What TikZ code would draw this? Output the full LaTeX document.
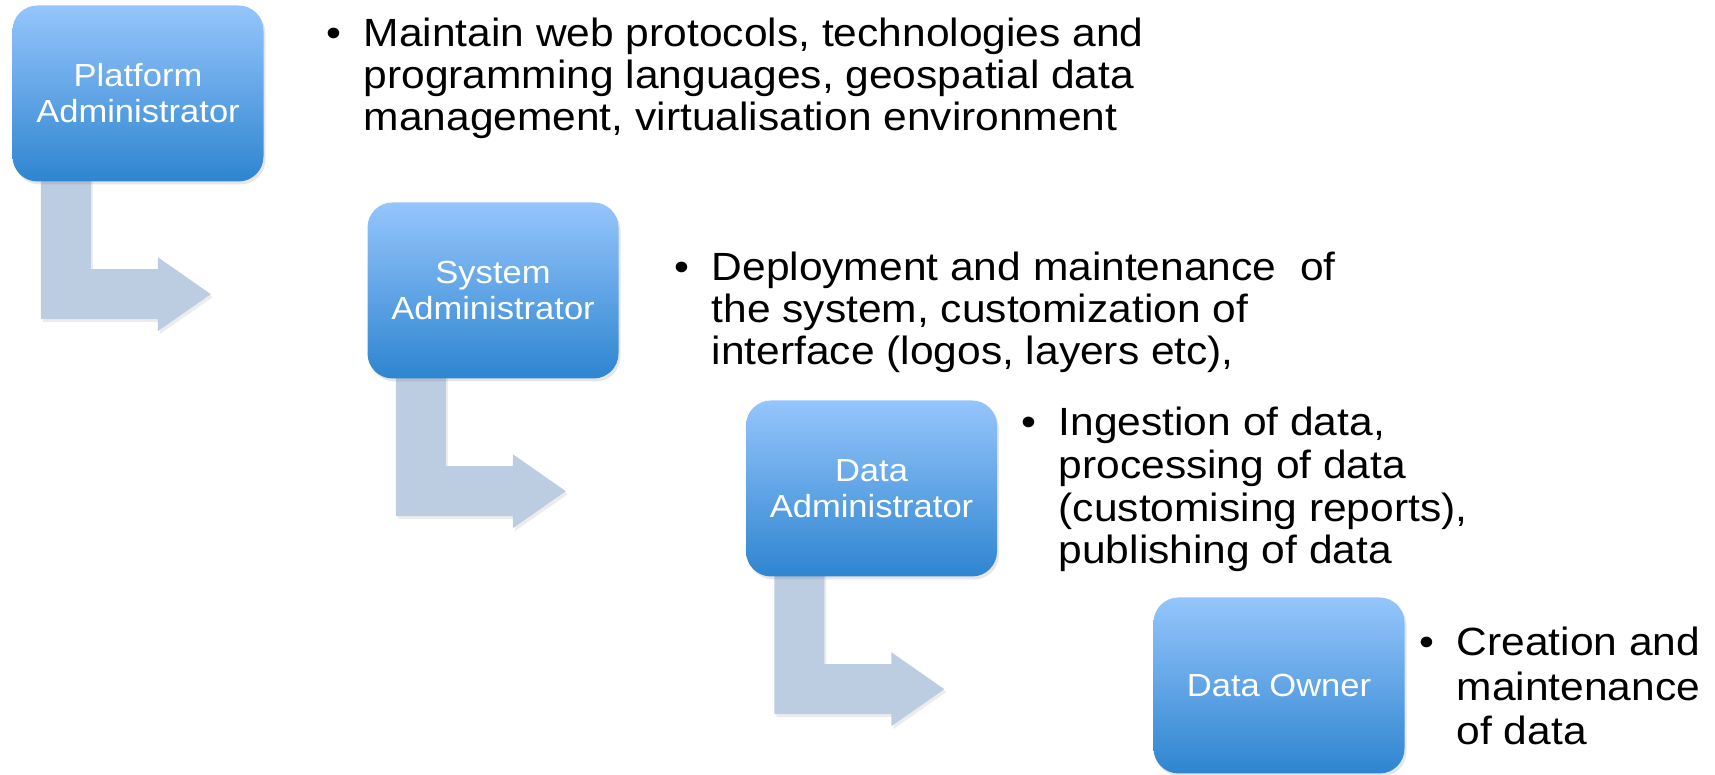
\documentclass[tikz,border=0pt]{standalone}
\usepackage{fontspec}
\setmainfont[FakeStretch=1.08]{Liberation Sans}
\usetikzlibrary{positioning,shadows,backgrounds}

\definecolor{roletop}{RGB}{149,197,252}
\definecolor{rolebottom}{RGB}{46,133,208}
\definecolor{flowgray}{RGB}{188,204,225}

\begin{document}
\begin{tikzpicture}[
    role/.style={rounded corners=0.25cm, minimum width=2.51cm, minimum height=1.76cm,
        top color=roletop, bottom color=rolebottom, text=white, align=center, inner sep=0pt,
        font=\fontsize{9.1}{10.24}\selectfont,
        drop shadow={opacity=0.2, shadow xshift=0.02cm, shadow yshift=-0.03cm}},
    duty/.style={anchor=base west, align=left, inner sep=0pt,
        font=\fontsize{11.2}{11.95}\selectfont},
    flow/.style={fill=flowgray,
        drop shadow={opacity=0.15, shadow xshift=0.02cm, shadow yshift=-0.03cm}}
]
    \useasboundingbox (0,0) rectangle (17.15,7.75);

    % Roles
    \node[role] (platform) at (1.38,6.815) {Platform\\Administrator};
    \node[role] (system) at (4.93,4.845) {System\\Administrator};
    \node[role] (data) at (8.715,2.865) {Data\\Administrator};
    \node[role] (owner) at (12.79,0.895) {Data Owner};

    % Duties of each role (placed at the baseline of the last line)
    \node[duty] (platformtask) at (3.63,6.44) {\llap{\textbullet\hspace{0.22cm}}Maintain web protocols, technologies and\\
        programming languages, geospatial data\\
        management, virtualisation environment};
    \node[duty] (systemtask) at (7.11,4.10) {\llap{\textbullet\hspace{0.22cm}}Deployment and maintenance~ of\\
        the system, customization of\\
        interface (logos, layers etc),};
    \node[duty, font=\fontsize{11.2}{12.2}\selectfont] (datatask) at (10.58,2.11) {\llap{\textbullet\hspace{0.22cm}}Ingestion of data,\\
        processing of data\\
        (customising reports),\\
        publishing of data};
    \node[duty, font=\fontsize{11.2}{12.66}\selectfont] (ownertask) at (14.56,0.30) {\llap{\textbullet\hspace{0.22cm}}Creation and\\
        maintenance\\
        of data};

    % Bent arrows between the roles
    \begin{scope}[on background layer]
        \foreach \role in {platform,system,data}
            \path[flow] (\role.south west) ++(0.29,0.1) -- ++(0,-1.47) -- ++(1.17,0) -- ++(0,-0.12)
                -- ++(0.53,0.37) -- ++(-0.53,0.37) -- ++(0,-0.12) -- ++(-0.67,0) -- ++(0,0.97) -- cycle;
    \end{scope}
\end{tikzpicture}
\end{document}
